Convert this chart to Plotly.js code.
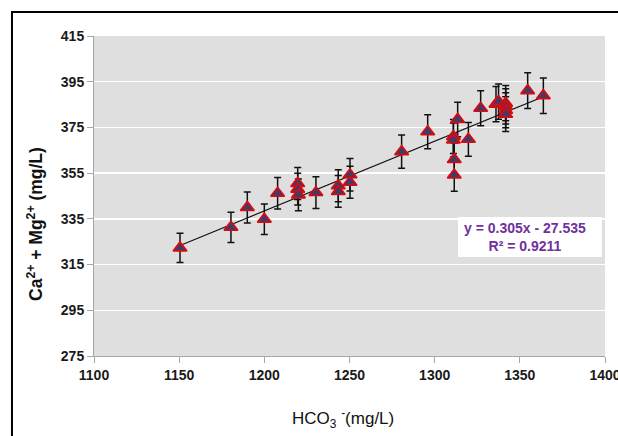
<!DOCTYPE html>
<html>
<head>
<meta charset="utf-8">
<script src="https://cdn.plot.ly/plotly-3.0.1.min.js"></script>
<style>
  html, body { margin: 0; padding: 0; background: #ffffff; }
  #chart { width: 618px; height: 436px; }
</style>
</head>
<body>
<div id="chart"></div>
<script>
// HCO3- (mg/L)
const hco3 = [1150.5, 1180.4, 1190.0, 1200.0, 1207.8, 1219.6, 1219.6, 1220.0, 1230.3, 1243.4,
              1243.4, 1250.3, 1250.3, 1280.6, 1295.9, 1311.0, 1311.0, 1311.5, 1311.5, 1313.5,
              1319.8, 1327.0, 1336.0, 1337.5, 1341.7, 1341.7, 1341.7, 1341.7, 1354.6, 1363.8];
// Ca2+ + Mg2+ (mg/L)
const caMg = [322.3, 331.3, 340.0, 334.8, 346.2, 350.5, 348.0, 345.5, 346.5, 349.5,
              347.0, 354.3, 351.0, 364.4, 373.1, 371.0, 369.5, 361.0, 354.2, 378.5,
              369.8, 383.4, 385.2, 386.3, 385.6, 384.2, 382.5, 380.8, 391.1, 388.9];
// error bars: percent of value
const errPercent = 2;
// linear fit shown on the chart
const slope = 0.305;
const intercept = -27.535;
const r2 = 0.9211;
const yTicks = [275, 295, 315, 335, 355, 375, 395, 415];
const xTicks = [1100, 1150, 1200, 1250, 1300, 1350, 1400];
const xTitle = 'HCO<sub>3</sub> <sup>-</sup>(mg/L)';
const yTitle = 'Ca<sup>2+</sup> + Mg<sup>2+</sup> (mg/L)';

const xMin = Math.min(...hco3), xMax = Math.max(...hco3);
const fitX = [xMin, xMax];
const fitY = fitX.map(v => slope * v + intercept);

const trend = {
  x: fitX, y: fitY, type: 'scatter', mode: 'lines',
  line: { color: '#111111', width: 1.2 }, hoverinfo: 'skip', showlegend: false
};
const pts = {
  x: hco3, y: caMg, type: 'scatter', mode: 'markers',
  marker: { symbol: 'triangle-up', size: 12, color: '#45386a',
            line: { color: '#dd0a0a', width: 1.6 } },
  error_y: { type: 'percent', value: errPercent, visible: true,
             color: '#111111', thickness: 1.5, width: 3.5 },
  showlegend: false
};

const FONT = 'Liberation Sans, Arial, sans-serif';
const tickFont = { family: FONT, size: 14, color: '#1a1a1a', weight: 'bold' };

const layout = {
  width: 618, height: 436,
  margin: { l: 94, r: 13, t: 36, b: 80 },
  paper_bgcolor: '#ffffff',
  plot_bgcolor: '#dfdfdf',
  showlegend: false,
  xaxis: {
    range: [1100, 1400], tickvals: xTicks, ticktext: xTicks.map(String),
    showgrid: false, zeroline: false,
    showline: true, linecolor: '#a6a6a6', linewidth: 1,
    ticks: 'outside', ticklen: 6, tickcolor: '#a6a6a6',
    tickfont: tickFont, ticklabeloverflow: 'allow'
  },
  yaxis: {
    range: [275, 415], tickvals: yTicks, ticktext: yTicks.map(String),
    showgrid: true, gridcolor: '#ffffff', gridwidth: 1.5, zeroline: false,
    showline: true, linecolor: '#a6a6a6', linewidth: 1,
    ticks: 'outside', ticklen: 6, tickcolor: '#a6a6a6',
    tickfont: tickFont
  },
  shapes: [
    { type: 'rect', xref: 'x', yref: 'y', x0: 1313.7, x1: 1398.2, y0: 318.3, y1: 335.8,
      fillcolor: '#ffffff', line: { width: 0 }, layer: 'above' },
    { type: 'path', xref: 'paper', yref: 'paper',
      path: 'M -0.1605 -0.3 L -0.1605 1.075 L 1.05 1.075',
      line: { color: '#000000', width: 2 } }
  ],
  annotations: [
    { xref: 'x', yref: 'y', x: 1353, y: 327.1, showarrow: false,
      text: 'y = ' + slope.toFixed(3) + 'x - ' + Math.abs(intercept).toFixed(3) + '<br>R² = ' + r2.toFixed(4),
      align: 'center',
      font: { family: FONT, size: 14, color: '#7030a0', weight: 'bold' } },
    { xref: 'paper', yref: 'paper', x: 0.487, y: -0.194, showarrow: false,
      xanchor: 'center', yanchor: 'middle',
      text: xTitle, font: { family: FONT, size: 17, color: '#111111' } },
    { xref: 'paper', yref: 'paper', x: -0.1155, y: 0.4125, showarrow: false,
      xanchor: 'center', yanchor: 'middle', textangle: -90,
      text: yTitle, font: { family: FONT, size: 17.5, color: '#111111', weight: 'bold' } }
  ]
};

Plotly.newPlot('chart', [trend, pts], layout, { displayModeBar: false, staticPlot: true });
</script>
</body>
</html>
